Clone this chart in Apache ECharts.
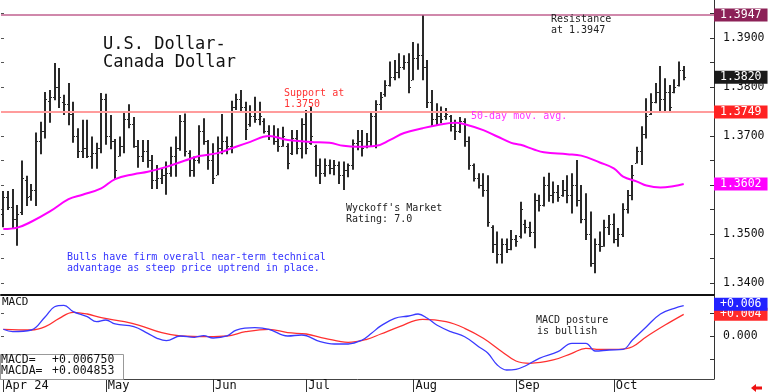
<!DOCTYPE html>
<html><head><meta charset="utf-8">
<script src="https://cdn.jsdelivr.net/npm/echarts@6/dist/echarts.min.js"></script>
<style>html,body{margin:0;padding:0;background:#fff}#c{width:768px;height:392px}</style>
</head><body><div id="c"></div>
<script>
// ---- data (USD/CAD daily bars, Apr 1 - Oct 22, 2024) ----
const opens = [
1.3540,1.3575,1.3555,1.3530,1.3545,1.3610,1.3578,1.3590,1.3690,1.3710,
1.3772,1.3780,1.3800,1.3770,1.3765,1.3745,1.3700,1.3670,1.3675,1.3660,
1.3665,1.3675,1.3775,1.3700,1.3690,1.3660,1.3680,1.3735,1.3725,1.3680,
1.3660,1.3670,1.3650,1.3610,1.3615,1.3620,1.3625,1.3660,1.3675,1.3730,
1.3665,1.3630,1.3650,1.3710,1.3690,1.3650,1.3620,1.3675,1.3690,1.3680,
1.3760,1.3775,1.3760,1.3725,1.3740,1.3735,1.3730,1.3710,1.3700,1.3690,
1.3680,1.3680,1.3665,1.3695,1.3675,1.3725,1.3685,1.3680,1.3640,1.3625,
1.3640,1.3635,1.3640,1.3620,1.3630,1.3640,1.3685,1.3690,1.3680,1.3690,
1.3740,1.3765,1.3785,1.3805,1.3820,1.3830,1.3840,1.3850,1.3815,1.3860,
1.3865,1.3840,1.3770,1.3735,1.3740,1.3740,1.3740,1.3720,1.3710,1.3730,
1.3690,1.3640,1.3615,1.3600,1.3590,1.3515,1.3480,1.3460,1.3480,1.3470,
1.3490,1.3495,1.3520,1.3515,1.3505,1.3570,1.3560,1.3600,1.3580,1.3585,
1.3580,1.3590,1.3580,1.3600,1.3570,1.3530,1.3500,1.3440,1.3480,1.3475,
1.3515,1.3520,1.3490,1.3500,1.3550,1.3580,1.3645,1.3670,1.3705,1.3745,
1.3770,1.3790,1.3775,1.3790,1.3790,1.3805,1.3835];
const highs = [
1.3588,1.3588,1.3592,1.3559,1.3650,1.3619,1.3602,1.3707,1.3729,1.3790,
1.3794,1.3849,1.3839,1.3784,1.3808,1.3770,1.3716,1.3733,1.3733,1.3699,
1.3686,1.3788,1.3786,1.3743,1.3694,1.3699,1.3747,1.3765,1.3739,1.3692,
1.3692,1.3692,1.3661,1.3641,1.3633,1.3648,1.3678,1.3699,1.3743,1.3746,
1.3671,1.3658,1.3722,1.3736,1.3692,1.3685,1.3699,1.3745,1.3699,1.3772,
1.3786,1.3794,1.3770,1.3763,1.3780,1.3770,1.3736,1.3722,1.3722,1.3716,
1.3719,1.3685,1.3712,1.3712,1.3736,1.3753,1.3759,1.3682,1.3654,1.3654,
1.3652,1.3651,1.3648,1.3648,1.3644,1.3693,1.3712,1.3712,1.3706,1.3750,
1.3773,1.3790,1.3814,1.3852,1.3855,1.3869,1.3865,1.3869,1.3892,1.3889,
1.3947,1.3855,1.3794,1.3767,1.3760,1.3757,1.3743,1.3733,1.3739,1.3736,
1.3699,1.3644,1.3624,1.3624,1.3620,1.3518,1.3505,1.3491,1.3491,1.3508,
1.3498,1.3566,1.3529,1.3525,1.3583,1.3580,1.3617,1.3625,1.3607,1.3600,
1.3610,1.3620,1.3624,1.3651,1.3600,1.3583,1.3546,1.3491,1.3505,1.3529,
1.3539,1.3542,1.3512,1.3563,1.3590,1.3641,1.3678,1.3720,1.3777,1.3787,
1.3808,1.3843,1.3818,1.3804,1.3816,1.3852,1.3843];
const lows = [
1.3514,1.3549,1.3512,1.3476,1.3539,1.3557,1.3568,1.3557,1.3663,1.3695,
1.3727,1.3773,1.3757,1.3743,1.3722,1.3686,1.3655,1.3655,1.3655,1.3633,
1.3633,1.3665,1.3682,1.3673,1.3612,1.3658,1.3665,1.3716,1.3676,1.3635,
1.3647,1.3635,1.3592,1.3592,1.3602,1.3580,1.3617,1.3617,1.3670,1.3658,
1.3617,1.3617,1.3644,1.3682,1.3631,1.3602,1.3620,1.3663,1.3663,1.3665,
1.3753,1.3750,1.3692,1.3719,1.3727,1.3722,1.3705,1.3692,1.3682,1.3668,
1.3678,1.3632,1.3661,1.3663,1.3654,1.3663,1.3682,1.3617,1.3602,1.3617,
1.3622,1.3620,1.3602,1.3590,1.3616,1.3631,1.3671,1.3658,1.3675,1.3678,
1.3675,1.3753,1.3780,1.3801,1.3814,1.3818,1.3835,1.3787,1.3814,1.3835,
1.3814,1.3757,1.3720,1.3722,1.3726,1.3733,1.3709,1.3692,1.3706,1.3678,
1.3631,1.3607,1.3593,1.3576,1.3515,1.3461,1.3440,1.3440,1.3461,1.3467,
1.3474,1.3491,1.3501,1.3494,1.3471,1.3546,1.3556,1.3566,1.3563,1.3566,
1.3576,1.3563,1.3542,1.3556,1.3522,1.3488,1.3433,1.3420,1.3464,1.3474,
1.3498,1.3481,1.3474,1.3494,1.3542,1.3569,1.3644,1.3641,1.3695,1.3743,
1.3767,1.3750,1.3750,1.3750,1.3787,1.3801,1.3814];
const closes = [
1.3575,1.3555,1.3530,1.3540,1.3615,1.3575,1.3590,1.3690,1.3710,1.3775,
1.3780,1.3800,1.3780,1.3765,1.3745,1.3700,1.3670,1.3675,1.3660,1.3665,
1.3675,1.3775,1.3700,1.3690,1.3630,1.3680,1.3735,1.3725,1.3680,1.3660,
1.3670,1.3650,1.3610,1.3615,1.3620,1.3625,1.3660,1.3675,1.3730,1.3670,
1.3630,1.3650,1.3710,1.3690,1.3650,1.3615,1.3675,1.3690,1.3680,1.3760,
1.3775,1.3760,1.3715,1.3740,1.3735,1.3740,1.3710,1.3700,1.3690,1.3680,
1.3700,1.3645,1.3695,1.3675,1.3725,1.3675,1.3700,1.3640,1.3625,1.3640,
1.3635,1.3640,1.3620,1.3630,1.3640,1.3685,1.3690,1.3675,1.3690,1.3740,
1.3765,1.3780,1.3805,1.3820,1.3830,1.3840,1.3850,1.3800,1.3860,1.3865,
1.3840,1.3770,1.3735,1.3740,1.3735,1.3745,1.3720,1.3710,1.3730,1.3690,
1.3640,1.3615,1.3600,1.3590,1.3525,1.3480,1.3460,1.3480,1.3470,1.3490,
1.3485,1.3550,1.3515,1.3505,1.3570,1.3560,1.3600,1.3580,1.3585,1.3575,
1.3590,1.3580,1.3600,1.3570,1.3530,1.3500,1.3440,1.3480,1.3475,1.3515,
1.3520,1.3490,1.3500,1.3550,1.3580,1.3620,1.3670,1.3705,1.3740,1.3770,
1.3790,1.3775,1.3790,1.3760,1.3800,1.3835,1.3820];

// 50-day moving average, read as [barIndex, value]
const ma50 = [[0,1.3510],[3,1.3513],[6,1.3525],[10,1.3546],[14,1.3571],[17,1.3580],[21,1.3593],[24,1.3612],[28,1.3622],[31,1.3627],[35,1.3637],[39,1.3650],[42,1.3659],[46,1.3665],[49,1.3675],[53,1.3688],[57,1.3700],[61,1.3692],[66,1.3688],[70,1.3686],[73,1.3680],[76,1.3678],[80,1.3680],[83,1.3692],[86,1.3706],[90,1.3716],[93,1.3722],[97,1.3727],[99,1.3724],[103,1.3712],[106,1.3699],[109,1.3686],[111,1.3682],[114,1.3672],[116,1.3667],[121,1.3663],[124,1.3660],[128,1.3646],[131,1.3634],[133,1.3617],[136,1.3607],[138,1.3599],[141,1.3595],[144,1.3598],[146,1.3602]];

// MACD and its signal (MACDA), read as [barIndex, value]
const macd = [[0,0.00155],[2,0.00102],[6,0.00139],[9,0.00433],[11,0.00653],[13,0.00684],[15,0.00543],[18,0.00433],[20,0.00322],[22,0.00360],[24,0.00272],[28,0.00212],[31,0.00066],[33,-0.00044],[35,-0.00097],[38,0.00007],[41,-0.00022],[43,0.00013],[45,-0.00038],[48,0.00007],[50,0.00139],[54,0.00190],[57,0.00155],[61,0.00007],[64,0.00029],[68,-0.00119],[71,-0.00170],[74,-0.00170],[77,-0.00082],[79,0.00066],[81,0.00230],[84,0.00397],[87,0.00448],[89,0.00492],[91,0.00397],[93,0.00249],[96,0.00102],[99,-0.00009],[102,-0.00230],[104,-0.00375],[106,-0.00634],[108,-0.00744],[110,-0.00728],[112,-0.00656],[115,-0.00486],[119,-0.00340],[122,-0.00155],[125,-0.00155],[127,-0.00325],[130,-0.00302],[133,-0.00287],[135,-0.00082],[138,0.00212],[141,0.00492],[144,0.00618],[146,0.00675]];
const macdSignal = [[0,0.00155],[6,0.00139],[9,0.00212],[12,0.00397],[15,0.00530],[18,0.00492],[21,0.00410],[26,0.00322],[29,0.00249],[34,0.00079],[38,0.00007],[44,-0.00009],[48,0.00007],[52,0.00102],[57,0.00155],[61,0.00079],[65,0.00051],[69,-0.00044],[74,-0.00132],[78,-0.00066],[81,0.00051],[85,0.00212],[90,0.00375],[95,0.00322],[99,0.00177],[103,-0.00044],[107,-0.00340],[110,-0.00545],[113,-0.00596],[118,-0.00523],[122,-0.00375],[125,-0.00265],[128,-0.00287],[132,-0.00287],[135,-0.00230],[138,-0.00009],[142,0.00249],[146,0.004853]];

const monthStarts = [0,22,45,65,88,110,131];
const monthLabels = ['Apr 24','May','Jun','Jul','Aug','Sep','Oct'];
const priceTicks = [1.3400,1.3450,1.3500,1.3550,1.3600,1.3650,1.3700,1.3750,1.3800,1.3850,1.3900,1.3950];
const priceLabels = [1.3400,1.3500,1.3600,1.3700,1.3800,1.3900];
const macdTicks = [-0.005,0,0.005];
const macdLabels = [0];
const resistance = 1.3947, support = 1.3749, lastClose = 1.3820, lastMA = 1.3602;
const lastMacd = 0.006750, lastMacdA = 0.004853;
const totalSlots = 153;

// ---- chart ----
const cats = Array.from({length: totalSlots}, (_, i) => String(i));
const bars = closes.map((c, i) => [i, opens[i], highs[i], lows[i], c]);
const MONO = '"DejaVu Sans Mono", monospace';

function renderBar(params, api) {
  const i = api.value(0);
  const o = api.coord([i, api.value(1)]);
  const h = api.coord([i, api.value(2)]);
  const l = api.coord([i, api.value(3)]);
  const c = api.coord([i, api.value(4)]);
  const x = Math.round(h[0]);
  const col = '#2a2a2a';
  return {type: 'group', children: [
    {type: 'rect', shape: {x: x - 1, y: h[1], width: 2, height: Math.max(1, l[1] - h[1])}, style: {fill: col}},
    {type: 'rect', shape: {x: x - 2, y: Math.round(o[1]), width: 1, height: 1}, style: {fill: col}},
    {type: 'rect', shape: {x: x + 1, y: Math.round(c[1]), width: 1, height: 1}, style: {fill: col}}
  ]};
}

function tagLabel(text, bg, offY) {
  return {show: true, position: 'end', distance: 0, formatter: text, color: '#fff', backgroundColor: bg,
          padding: [1, 6, 0, 6], fontFamily: MONO, fontSize: 11.5, offset: [0, offY || 0]};
}
function tag(value, text, bg, lineStyle, offY) {
  return {
    yAxis: value,
    lineStyle: lineStyle || {color: 'rgba(0,0,0,0)', width: 1},
    label: tagLabel(text, bg, offY)
  };
}

const annotations = [
  [103, 45, 'U.S. Dollar-', '#111', 17],
  [103, 62.5, 'Canada Dollar', '#111', 17],
  [284, 93.5, 'Support at', '#ff3333', 10],
  [284, 104, '1.3750', '#ff3333', 10],
  [551, 19.7, 'Resistance', '#222', 10],
  [551, 30.3, 'at 1.3947', '#222', 10],
  [471, 116, '50-day mov. avg.', '#ff33ff', 10],
  [346, 208, "Wyckoff's Market", '#222', 10],
  [346, 219, 'Rating: 7.0', '#222', 10],
  [67, 257, 'Bulls have firm overall near-term technical', '#3333ff', 10],
  [67, 268, 'advantage as steep price uptrend in place.', '#3333ff', 10],
  [536, 320.5, 'MACD posture', '#222', 10],
  [537, 331, 'is bullish', '#222', 10],
  [2, 302.5, 'MACD', '#111', 11],
  [1, 360.3, 'MACD=', '#111', 11.5],
  [52, 360.3, '+0.006750', '#111', 11.5],
  [1, 371.3, 'MACDA=', '#111', 11.5],
  [52, 371.3, '+0.004853', '#111', 11.5]
];

const graphics = [
  {type: 'rect', z: 50, shape: {x: 0.5, y: 354.5, width: 123, height: 25}, style: {fill: '#fff', stroke: '#999', lineWidth: 1}},
  {type: 'polygon', z: 50, shape: {points: [[751,388],[756,384],[756,386.5],[762,386.5],[762,389.5],[756,389.5],[756,392]]}, style: {fill: '#ee1111'}}
].concat(annotations.map(a => ({
  type: 'text', z: 60, x: a[0], y: a[1],
  style: {text: a[2], fill: a[3], font: a[4] + 'px ' + MONO, verticalAlign: 'middle', align: 'left'}
})));

const isMonth = (idx) => monthStarts.indexOf(idx) >= 0;

const option = {
  animation: false,
  backgroundColor: '#fff',
  grid: [
    {left: 1, right: 54, top: 0, height: 295},
    {left: 1, right: 54, top: 296, height: 83}
  ],
  xAxis: [
    {type: 'category', gridIndex: 0, data: cats, boundaryGap: true,
     axisLine: {show: true, onZero: false, lineStyle: {color: '#111', width: 2}},
     axisTick: {show: false}, axisLabel: {show: false}, splitLine: {show: false}},
    {type: 'category', gridIndex: 1, data: cats, boundaryGap: true,
     axisLine: {show: true, onZero: false, lineStyle: {color: '#444', width: 1}},
     axisTick: {show: true, alignWithLabel: true, length: 13, interval: (i) => isMonth(i), lineStyle: {color: '#333'}},
     axisLabel: {show: true, interval: (i) => isMonth(i), align: 'left', margin: 1, padding: [0, 0, 0, 2],
                 formatter: (v, i) => monthLabels[monthStarts.indexOf(i)] || '',
                 fontFamily: MONO, fontSize: 12, color: '#111'},
     splitLine: {show: false}}
  ],
  yAxis: [
    {type: 'value', gridIndex: 0, position: 'right', min: 1.337551, max: 1.397755, scale: true,
     axisLine: {show: true, lineStyle: {color: '#333'}},
     axisTick: {show: true, inside: true, length: 4, customValues: priceTicks, lineStyle: {color: '#333'}},
     axisLabel: {show: true, customValues: priceLabels, formatter: v => v.toFixed(4), margin: 9,
                 fontFamily: MONO, fontSize: 11.5, color: '#111'},
     splitLine: {show: false}},
    {type: 'value', gridIndex: 0, position: 'left', min: 1.337551, max: 1.397755, scale: true,
     axisLine: {show: false},
     axisTick: {show: true, inside: true, length: 3, customValues: priceTicks, lineStyle: {color: '#555'}},
     axisLabel: {show: false}, splitLine: {show: false}},
    {type: 'value', gridIndex: 1, position: 'right', min: -0.009426, max: 0.008896,
     axisLine: {show: true, onZero: false, lineStyle: {color: '#333'}},
     axisTick: {show: true, inside: true, length: 4, customValues: macdTicks, lineStyle: {color: '#333'}},
     axisLabel: {show: true, customValues: macdLabels, formatter: v => v.toFixed(3), margin: 9,
                 fontFamily: MONO, fontSize: 11.5, color: '#111'},
     splitLine: {show: false}},
    {type: 'value', gridIndex: 1, position: 'left', min: -0.009426, max: 0.008896,
     axisLine: {show: false, onZero: false},
     axisTick: {show: true, inside: true, length: 3, customValues: macdTicks, lineStyle: {color: '#555'}},
     axisLabel: {show: false}, splitLine: {show: false}}
  ],
  series: [
    {type: 'custom', name: 'bars', xAxisIndex: 0, yAxisIndex: 0, data: bars,
     encode: {x: 0, y: [1, 2, 3, 4]}, renderItem: renderBar, z: 3, clip: true},
    {type: 'line', name: 'ma50', xAxisIndex: 0, yAxisIndex: 0, data: ma50, smooth: 0.4,
     showSymbol: false, lineStyle: {color: '#ff00ff', width: 2}, z: 4,
     markLine: {silent: true, symbol: ['none', 'none'], animation: false, precision: 6,
       data: [
         tag(resistance, '1.3947', '#8c2157', {color: '#c0608f', width: 1.5, type: 'solid'}),
         tag(support, '1.3749', '#ff2222', {color: '#ff9c9c', width: 2, type: 'solid'}),
         tag(lastClose, '1.3820', '#1a1a1a'),
         tag(lastMA, '1.3602', '#ff00ff')
       ]}},
    {type: 'line', name: 'MACDA', xAxisIndex: 1, yAxisIndex: 2, data: macdSignal, smooth: 0.4,
     showSymbol: false, lineStyle: {color: '#ff3030', width: 1.3}, z: 3,
     markLine: {silent: true, symbol: ['none', 'none'], animation: false, precision: 8,
       data: [tag(lastMacdA, '+0.004', '#ff2a2a')]}},
    {type: 'line', name: 'MACD', xAxisIndex: 1, yAxisIndex: 2, data: macd, smooth: 0.4,
     showSymbol: false, lineStyle: {color: '#3a3aff', width: 1.3}, z: 4,
     markLine: {silent: true, symbol: ['none', 'none'], animation: false, precision: 8,
       data: [tag(lastMacd, '+0.006', '#2222ff', null, -1.5)]}}
  ],
  graphic: graphics
};

const chart = echarts.init(document.getElementById('c'), null, {renderer: 'canvas'});
chart.setOption(option);
</script>
</body></html>
